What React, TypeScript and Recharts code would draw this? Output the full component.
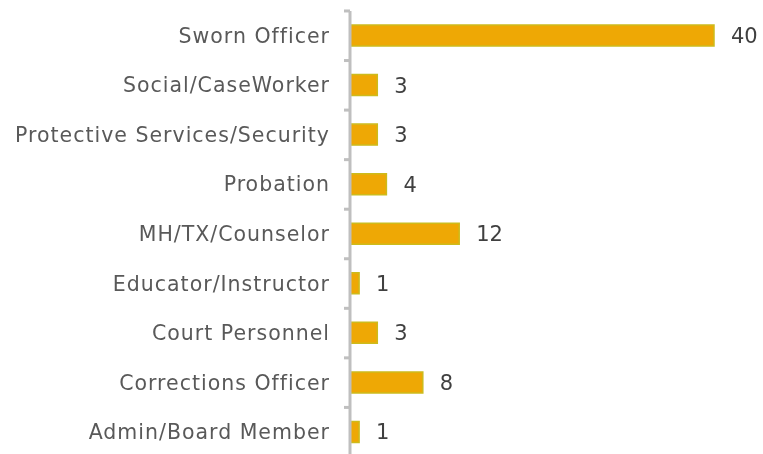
import { BarChart, Bar, XAxis, YAxis, LabelList } from 'recharts';

const categories = [
  'Sworn Officer',
  'Social/CaseWorker',
  'Protective Services/Security',
  'Probation',
  'MH/TX/Counselor',
  'Educator/Instructor',
  'Court Personnel',
  'Corrections Officer',
  'Admin/Board Member',
];
const counts = [40, 3, 3, 4, 12, 1, 3, 8, 1];

const data = categories.map((name, i) => ({ name, value: counts[i] }));

const FONT = '"DejaVu Sans", sans-serif';
const AXIS_GREY = '#BFBFBF';

// category label plus boundary tick marks (ticks sit between categories)
function CategoryTick(props: any) {
  const { x, y, payload, index, visibleTicksCount } = props;
  const band = 49.6;
  const axisX = x + 20;
  return (
    <g>
      <text
        x={x}
        y={y}
        dy={7}
        textAnchor="end"
        fill="#595959"
        fontSize={20.5}
        letterSpacing={1}
        fontFamily={FONT}
      >
        {payload.value}
      </text>
      <line x1={axisX - 6} x2={axisX} y1={y - band / 2} y2={y - band / 2} stroke={AXIS_GREY} strokeWidth={3} />
      {index === visibleTicksCount - 1 && (
        <line x1={axisX - 6} x2={axisX} y1={y + band / 2} y2={y + band / 2} stroke={AXIS_GREY} strokeWidth={3} />
      )}
    </g>
  );
}

export default function App() {
  // fixed so the slightly taller chart doesn't trigger a scrollbar
  return (
    <div style={{ position: 'fixed', left: 8, top: 8 }}>
      <BarChart
        width={755}
        height={449}
        data={data}
        layout="vertical"
        margin={{ top: 3, right: 49, bottom: 0, left: 0 }}
        barSize={21}
      >
        <XAxis type="number" domain={[0, 40]} hide />
        <YAxis
          type="category"
          dataKey="name"
          width={342}
          tickLine={false}
          tickSize={0}
          tickMargin={20}
          axisLine={{ stroke: AXIS_GREY, strokeWidth: 3 }}
          tick={<CategoryTick />}
          interval={0}
        />
        <Bar
          dataKey="value"
          fill="#EEA805"
          stroke="#CDBB1C"
          strokeWidth={1.5}
          isAnimationActive={false}
        >
          <LabelList
            dataKey="value"
            position="right"
            offset={17}
            fill="#404040"
            fontSize={21}
            fontFamily={FONT}
          />
        </Bar>
      </BarChart>
    </div>
  );
}
